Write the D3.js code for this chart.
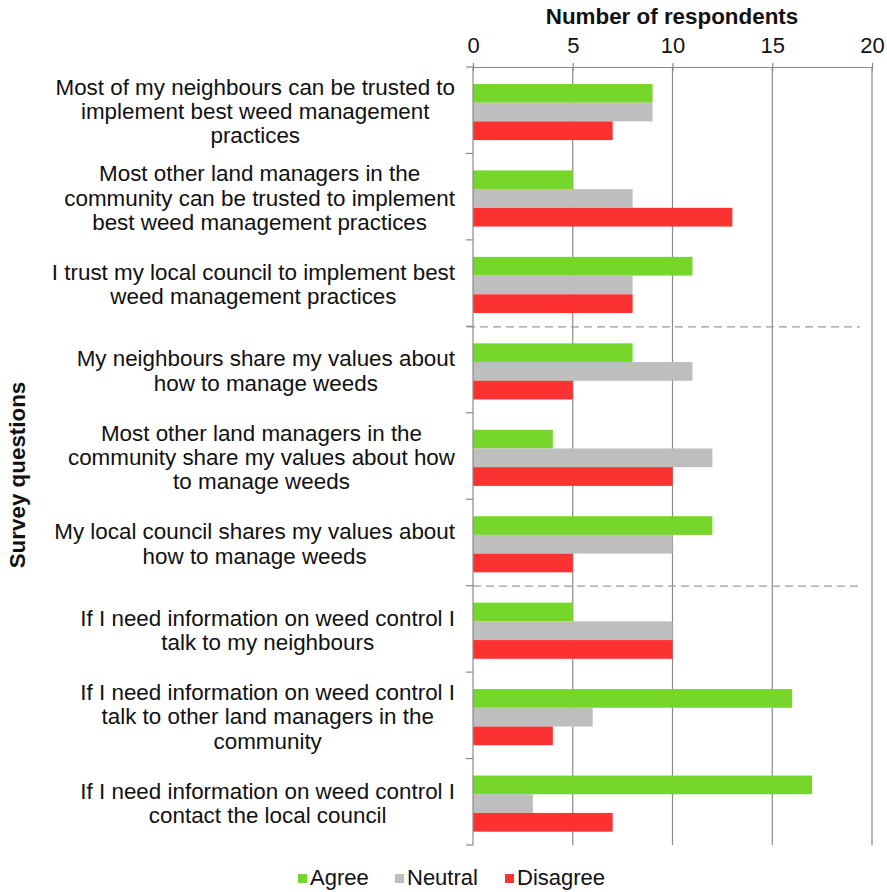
<!DOCTYPE html>
<html>
<head>
<meta charset="utf-8">
<script src="https://cdn.jsdelivr.net/npm/d3@7"></script>
<style>
  body { margin: 0; background: #fff; }
  svg { font-family: "Liberation Sans", Arial, sans-serif; }
</style>
</head>
<body>
<div id="chart"></div>
<script>
// survey questions, each split into its wrapped lines
const questions = [
  ["Most of my neighbours can be trusted to", "implement best weed management", "practices"],
  ["Most other land managers in the", "community can be trusted to implement", "best weed management practices"],
  ["I trust my local council to implement best", "weed management practices"],
  ["My neighbours share my values about", "how to manage weeds"],
  ["Most other land managers in the", "community share my values about how", "to manage weeds"],
  ["My local council shares my values about", "how to manage weeds"],
  ["If I need information on weed control I", "talk to my neighbours"],
  ["If I need information on weed control I", "talk to other land managers in the", "community"],
  ["If I need information on weed control I", "contact the local council"]
];
const series = ["Agree", "Neutral", "Disagree"];
const agree    = [9, 5, 11, 8, 4, 12, 5, 16, 17];
const neutral  = [9, 8, 8, 11, 12, 10, 10, 6, 3];
const disagree = [7, 13, 8, 5, 10, 5, 10, 4, 7];
const xTicks = [0, 5, 10, 15, 20];
const groupBreaks = [3, 6]; // dashed separators after these questions

const colors = { Agree: "#77d62c", Neutral: "#bebebe", Disagree: "#fc3232" };
const values = { Agree: agree, Neutral: neutral, Disagree: disagree };

const W = 887, H = 892;
const margin = { top: 67, left: 473, right: 15, bottom: 47 };

const svg = d3.select("#chart").append("svg")
  .attr("width", W).attr("height", H);

const x = d3.scaleLinear().domain([0, 20]).range([margin.left, 872]);
const y = d3.scaleBand().domain(d3.range(questions.length))
  .range([margin.top, 845]);
const ySub = d3.scaleBand().domain(series)
  .range([0, y.bandwidth()]).paddingOuter(0.81).paddingInner(0).align(0.56);

// vertical grid lines
svg.append("g")
  .selectAll("line")
  .data(xTicks.slice(1))
  .join("line")
  .attr("x1", d => x(d)).attr("x2", d => x(d))
  .attr("y1", margin.top).attr("y2", 845)
  .attr("stroke", "#8a8a8a").attr("stroke-width", 1.2);

// bars
series.forEach(s => {
  svg.append("g")
    .selectAll("rect")
    .data(values[s])
    .join("rect")
    .attr("x", x(0))
    .attr("y", (d, i) => y(i) + ySub(s))
    .attr("width", d => x(d) - x(0))
    .attr("height", ySub.bandwidth())
    .attr("fill", colors[s]);
});

// dashed group separators
svg.append("g")
  .selectAll("line")
  .data(groupBreaks)
  .join("line")
  .attr("x1", (d, i) => i === 0 ? 467 : 473).attr("x2", 860)
  .attr("y1", d => y(d) + 0.5).attr("y2", d => y(d) + 0.5)
  .attr("stroke", "#9a9a9a").attr("stroke-width", 1.2)
  .attr("stroke-dasharray", "8,5");

// top x axis
const xAxis = d3.axisTop(x).tickValues(xTicks).tickSize(6).tickSizeOuter(0);
const gx = svg.append("g")
  .attr("transform", `translate(0,${margin.top})`)
  .call(xAxis);
gx.select(".domain").attr("stroke", "#8a8a8a").attr("stroke-width", 1.2);
gx.selectAll(".tick line").attr("stroke", "#8a8a8a").attr("stroke-width", 1.2)
  .attr("y1", 4).attr("y2", -4);
gx.selectAll(".tick text")
  .attr("y", -14)
  .style("font-size", "22px")
  .attr("font-family", "Liberation Sans, Arial, sans-serif")
  .attr("fill", "#111");

// left y axis line with ticks on band boundaries
const gy = svg.append("g");
gy.append("line")
  .attr("x1", x(0)).attr("x2", x(0))
  .attr("y1", margin.top).attr("y2", 845)
  .attr("stroke", "#8a8a8a").attr("stroke-width", 1.2);
gy.selectAll("line.tk")
  .data(d3.range(questions.length + 1))
  .join("line")
  .attr("class", "tk")
  .attr("x1", x(0) - 7).attr("x2", x(0))
  .attr("y1", d => margin.top + d * y.step())
  .attr("y2", d => margin.top + d * y.step())
  .attr("stroke", "#8a8a8a").attr("stroke-width", 1.2);

// category labels (centred block, right edge near the axis)
const lineH = 24.2;
questions.forEach((lines, i) => {
  const g = svg.append("g");
  const cy = y(i) + y.bandwidth() / 2;
  const t = g.append("text")
    .attr("text-anchor", "middle")
    .style("font-size", "22.4px")
    .attr("fill", "#111");
  lines.forEach((ln, j) => {
    t.append("tspan")
      .attr("x", 0)
      .attr("y", cy + (j - (lines.length - 1) / 2) * lineH + 9)
      .text(ln);
  });
  const maxW = d3.max(t.selectAll("tspan").nodes(), n => n.getComputedTextLength());
  t.selectAll("tspan").attr("x", 455 - maxW / 2);
});

// axis titles
svg.append("text")
  .attr("x", 672).attr("y", 24)
  .attr("text-anchor", "middle")
  .style("font-size", "22.4px").style("font-weight", "bold")
  .attr("fill", "#111")
  .text("Number of respondents");

svg.append("text")
  .attr("transform", "translate(25,475) rotate(-90)")
  .attr("text-anchor", "middle")
  .style("font-size", "22.4px").style("font-weight", "bold")
  .attr("fill", "#111")
  .text("Survey questions");

// legend
const legendX = [298, 395, 505];
const legend = svg.append("g")
  .selectAll("g")
  .data(series)
  .join("g")
  .attr("transform", (d, i) => `translate(${legendX[i]},885)`);
legend.append("rect")
  .attr("x", 0).attr("y", -11).attr("width", 9).attr("height", 9)
  .attr("fill", d => colors[d]);
legend.append("text")
  .attr("x", 12).attr("y", 0)
  .style("font-size", "22px")
  .attr("fill", "#111")
  .text(d => d);
</script>
</body>
</html>
